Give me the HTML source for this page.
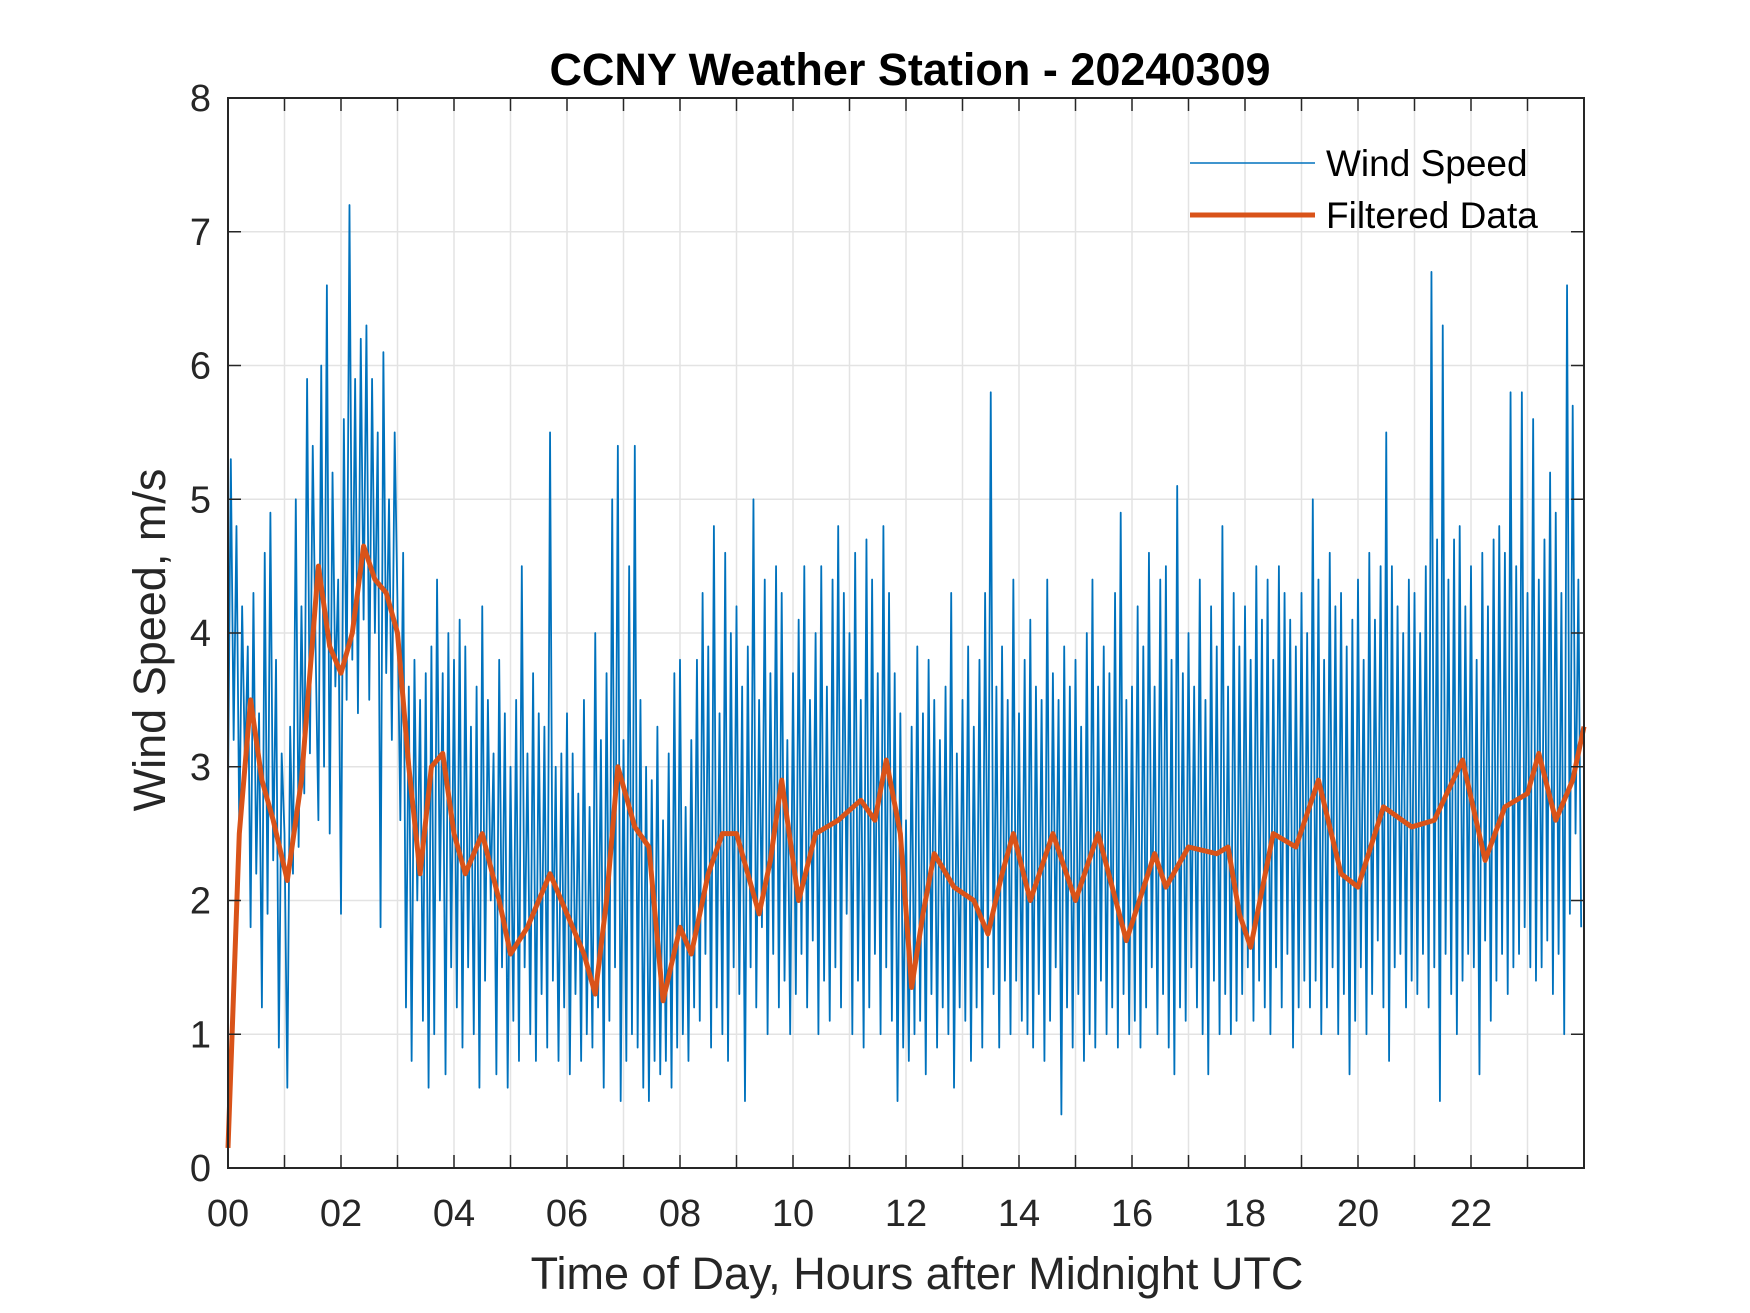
<!DOCTYPE html>
<html><head><meta charset="utf-8"><style>
html,body{margin:0;padding:0;background:#fff;}
svg{display:block;font-family:"Liberation Sans",Arial,sans-serif;}
</style></head><body>
<svg id="chart" width="1750" height="1313" viewBox="0 0 1750 1313" xmlns="http://www.w3.org/2000/svg">
<rect width="1750" height="1313" fill="#fff"/>
<g id="grid"></g>
<g id="series"></g>
<g id="axes"></g>
<text x="910" y="85" text-anchor="middle" font-size="45" font-weight="bold" fill="#000">CCNY Weather Station - 20240309</text>
<text x="917" y="1289" text-anchor="middle" font-size="45" fill="#262626">Time of Day, Hours after Midnight UTC</text>
<text transform="translate(165,640) rotate(-90)" text-anchor="middle" font-size="45" fill="#262626">Wind Speed, m/s</text>
<g>
<line x1="1190" y1="163" x2="1315" y2="163" stroke="#0072BD" stroke-width="1.5"/>
<text x="1326" y="176" font-size="37" fill="#000">Wind Speed</text>
<line x1="1190" y1="215" x2="1315" y2="215" stroke="#D95319" stroke-width="5"/>
<text x="1326" y="228" font-size="37" fill="#000">Filtered Data</text>
</g>
</svg>
<script>
const xTickLabels = ["00","02","04","06","08","10","12","14","16","18","20","22"];
const yTickLabels = ["0","1","2","3","4","5","6","7","8"];
const windPerHour = 20;
const windSpeed = [
2.8,5.3,3.2,4.8,2.5,4.2,3.0,3.9,1.8,4.3,2.2,3.4,1.2,4.6,1.9,4.9,2.3,3.8,0.9,3.1,
2.5,0.6,3.3,2.2,5.0,2.4,4.2,2.8,5.9,3.1,5.4,3.9,2.6,6.0,3.0,6.6,2.5,5.2,3.6,4.4,
1.9,5.6,3.5,7.2,3.8,5.9,3.4,6.2,4.1,6.3,3.5,5.9,4.0,5.5,1.8,6.1,3.7,5.0,3.2,5.5,
4.2,2.6,4.6,1.2,3.6,0.8,3.8,2.0,3.5,1.1,3.7,0.6,3.9,1.0,4.4,2.0,3.7,0.7,4.0,1.5,
3.8,1.2,4.1,0.9,3.9,1.5,3.3,1.0,3.6,0.6,4.2,1.4,3.5,2.0,3.1,0.7,3.8,1.5,3.4,0.6,
3.0,1.1,3.5,0.8,4.5,1.5,3.1,1.0,3.7,0.8,3.4,1.3,3.3,0.9,5.5,1.4,3.0,0.8,3.1,1.2,
3.4,0.7,3.1,1.3,2.8,0.8,3.5,1.0,2.7,0.9,4.0,1.2,3.2,0.6,3.7,1.1,5.0,1.5,5.4,0.5,
3.2,0.8,4.5,1.0,5.4,0.9,3.5,0.6,3.0,0.5,2.9,0.8,3.3,0.7,2.6,0.8,3.1,0.6,3.7,0.9,
3.8,1.0,2.7,0.8,3.2,1.2,3.8,1.1,4.3,1.6,3.9,0.9,4.8,1.2,3.4,1.0,4.6,0.8,4.0,1.5,
4.2,1.3,3.6,0.5,3.9,1.5,5.0,1.2,3.5,1.8,4.4,1.0,3.7,1.6,4.5,1.2,4.3,1.4,3.2,1.0,
3.7,1.3,4.1,1.6,4.5,1.2,3.5,1.7,4.0,1.0,4.5,1.4,3.6,1.1,4.4,1.5,4.8,1.2,4.3,1.9,
4.0,1.0,4.6,1.4,3.5,0.9,4.7,1.2,4.4,1.6,3.7,1.0,4.8,1.5,4.3,1.1,3.7,0.5,3.4,0.9,
2.6,0.8,3.3,1.0,3.9,1.1,3.4,0.7,3.8,1.3,3.5,0.9,3.2,1.2,3.6,1.0,4.3,0.6,3.1,1.2,
3.5,1.1,3.9,0.8,3.3,1.2,3.8,0.9,4.3,1.5,5.8,1.3,3.6,0.9,3.9,1.4,3.5,1.0,4.4,1.4,
3.4,1.1,3.8,1.0,4.1,0.9,3.6,1.3,3.5,0.8,4.4,1.1,3.7,1.5,3.5,0.4,3.9,1.2,3.6,0.9,
3.8,1.3,3.3,0.8,4.0,1.0,4.4,0.9,3.6,1.4,3.9,1.0,3.7,1.2,4.3,0.9,4.9,1.3,3.5,1.0,
3.6,1.1,4.2,0.9,3.9,1.2,4.6,1.5,3.6,1.0,4.4,1.3,4.5,0.9,3.8,0.7,5.1,1.2,3.7,1.1,
4.0,1.5,3.6,1.2,4.4,1.0,3.5,0.7,4.2,1.4,3.9,1.0,4.8,1.3,3.6,1.0,4.3,1.1,3.9,1.3,
4.2,1.5,3.8,1.1,4.5,1.4,4.1,1.2,4.4,1.0,3.8,1.5,4.5,1.2,4.3,1.6,4.1,0.9,3.9,1.2,
4.3,1.4,4.0,1.2,5.0,1.4,4.4,1.0,3.8,1.2,4.6,1.5,4.2,1.0,4.3,1.3,3.9,0.7,4.1,1.1,
4.4,1.5,3.8,1.0,4.6,1.3,4.1,1.7,4.5,1.2,5.5,0.8,4.5,1.5,4.2,1.6,4.0,1.2,4.4,1.4,
4.3,1.3,4.0,1.6,4.5,1.2,6.7,1.5,4.7,0.5,6.3,1.6,4.4,1.3,4.7,1.0,4.8,1.4,4.2,1.6,
4.5,1.5,3.8,0.7,4.6,1.7,4.2,1.1,4.7,1.4,4.8,1.6,4.6,1.3,5.8,1.5,4.5,1.6,5.8,1.8,
4.3,1.5,5.6,1.4,4.4,1.5,4.7,1.7,5.2,1.3,4.9,1.6,4.3,1.0,6.6,1.9,5.7,2.5,4.4,1.8
];
const filtHours = [0,0.2,0.4,0.6,0.8,1.05,1.3,1.6,1.8,2.0,2.2,2.4,2.6,2.8,3.0,3.2,3.4,3.6,3.8,4.0,4.2,4.5,4.8,5.0,5.3,5.7,6.0,6.3,6.5,6.7,6.9,7.2,7.45,7.7,8.0,8.2,8.5,8.75,9.0,9.2,9.4,9.6,9.8,10.1,10.4,10.8,11.2,11.45,11.65,11.9,12.1,12.3,12.5,12.85,13.2,13.45,13.7,13.9,14.2,14.6,15.0,15.4,15.9,16.4,16.6,17.0,17.5,17.7,17.9,18.1,18.5,18.9,19.3,19.7,20.0,20.45,20.95,21.35,21.85,22.25,22.6,23.0,23.2,23.5,23.8,24.0];
const filtValues = [0.15,2.5,3.5,2.9,2.6,2.15,2.9,4.5,3.9,3.7,4.0,4.65,4.4,4.3,4.0,3.0,2.2,3.0,3.1,2.5,2.2,2.5,2.0,1.6,1.8,2.2,1.9,1.6,1.3,2.0,3.0,2.55,2.4,1.25,1.8,1.6,2.2,2.5,2.5,2.2,1.9,2.3,2.9,2.0,2.5,2.6,2.75,2.6,3.05,2.5,1.35,1.9,2.35,2.1,2.0,1.75,2.2,2.5,2.0,2.5,2.0,2.5,1.7,2.35,2.1,2.4,2.35,2.4,1.9,1.65,2.5,2.4,2.9,2.2,2.1,2.7,2.55,2.6,3.05,2.3,2.7,2.8,3.1,2.6,2.9,3.3];

const L=228,R=1584,T=98,B=1168,XMAX=24,YMAX=8;
const xs=h=>L+(R-L)*h/XMAX;
const ys=v=>B-(B-T)*v/YMAX;
const NS="http://www.w3.org/2000/svg";
function mk(tag,attrs,parent){const e=document.createElementNS(NS,tag);for(const k in attrs)e.setAttribute(k,attrs[k]);parent.appendChild(e);return e;}
const grid=document.getElementById('grid'),axes=document.getElementById('axes'),series=document.getElementById('series');
for(let h=1;h<XMAX;h++){
  const g=mk('line',{x1:xs(h),x2:xs(h),y1:T,y2:B,stroke:'#e3e3e3','stroke-width':1.5},grid);
  
  
  const t1=mk('line',{x1:xs(h),x2:xs(h),y1:B,y2:B-13,stroke:'#262626','stroke-width':1.5},axes);
  
  
  const t2=mk('line',{x1:xs(h),x2:xs(h),y1:T,y2:T+13,stroke:'#262626','stroke-width':1.5},axes);
  
  
}
for(let v=1;v<YMAX;v++){
  const g=mk('line',{x1:L,x2:R,y1:ys(v),y2:ys(v),stroke:'#e3e3e3','stroke-width':1.5},grid);
  
  
  const t1=mk('line',{x1:L,x2:L+13,y1:ys(v),y2:ys(v),stroke:'#262626','stroke-width':1.5},axes);
  
  
  const t2=mk('line',{x1:R,x2:R-13,y1:ys(v),y2:ys(v),stroke:'#262626','stroke-width':1.5},axes);
  
  
}
xTickLabels.forEach((lab,i)=>{
  const t=mk('text',{x:xs(i*2),y:1226,'text-anchor':'middle','font-size':38,fill:'#262626'},axes);
  t.textContent=lab;
  
  
});
yTickLabels.forEach((lab,i)=>{
  const t=mk('text',{x:211,y:ys(i)+13,'text-anchor':'end','font-size':38,fill:'#262626'},axes);
  t.textContent=lab;
  
  
});
const box=mk('rect',{x:L,y:T,width:R-L,height:B-T,fill:'none',stroke:'#262626','stroke-width':2},axes);


let d='';
windSpeed.forEach((v,i)=>{d+=(i?'L':'M')+xs(Math.min(i/windPerHour,XMAX)).toFixed(2)+','+ys(v).toFixed(2);});
const wl=mk('path',{d:d,fill:'none',stroke:'#0072BD','stroke-width':1.8,'stroke-linejoin':'round'},series);


let d2='';
filtValues.forEach((v,i)=>{d2+=(i?'L':'M')+xs(filtHours[i]).toFixed(2)+','+ys(v).toFixed(2);});
const fl=mk('path',{d:d2,fill:'none',stroke:'#D95319','stroke-width':5,'stroke-linejoin':'round'},series);


</script>
</body></html>
